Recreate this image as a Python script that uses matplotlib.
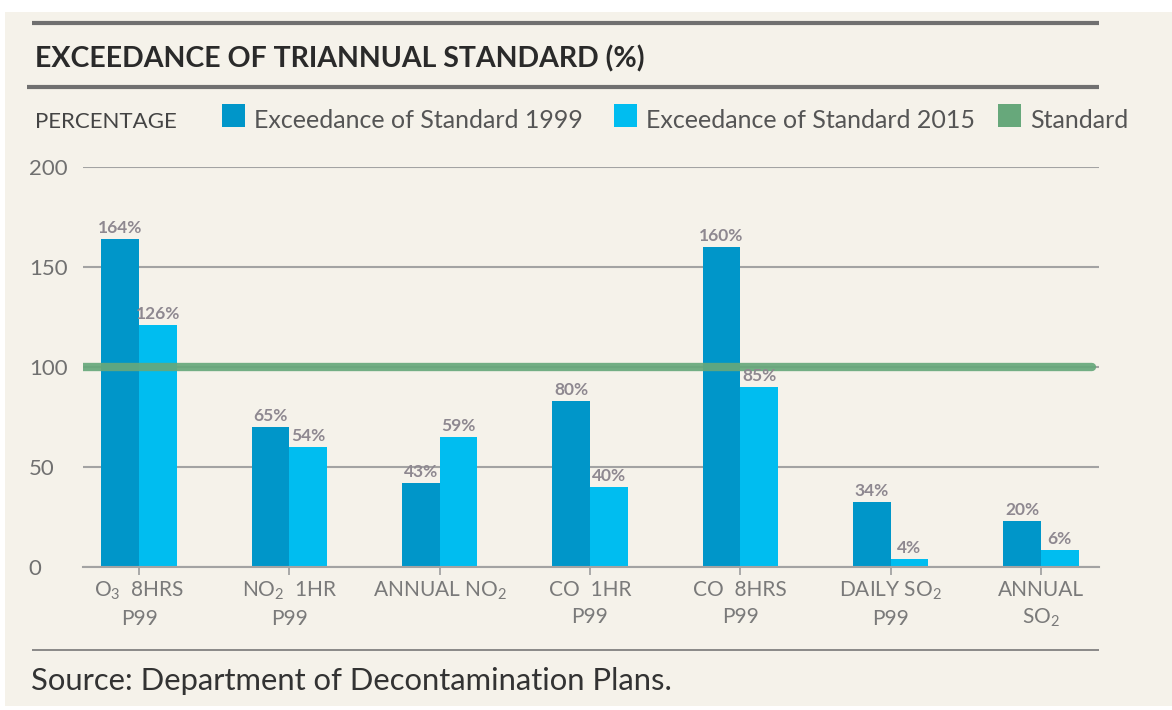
import numpy as np
import matplotlib.pyplot as plt
from matplotlib.patches import Rectangle
from matplotlib.lines import Line2D

plt.rcParams['font.family'] = ['Lato', 'DejaVu Sans']
plt.rcParams['mathtext.fontset'] = 'custom'
plt.rcParams['mathtext.rm'] = 'Lato'
plt.rcParams['mathtext.default'] = 'regular'

categories = ['O$_3$  8HRS\nP99', 'NO$_2$  1HR\nP99', 'ANNUAL NO$_2$', 'CO  1HR\nP99',
              'CO  8HRS\nP99', 'DAILY SO$_2$\nP99', 'ANNUAL\nSO$_2$']
# bar heights as drawn in the source chart
values_1999 = [164, 70, 42, 83, 160, 32.5, 23]
values_2015 = [121, 60, 65, 40, 90, 4, 8.5]
labels_1999 = ['164%', '65%', '43%', '80%', '160%', '34%', '20%']
labels_2015 = ['126%', '54%', '59%', '40%', '85%', '4%', '6%']
standard = 100
yticks = [0, 50, 100, 150, 200]

bg = '#f5f2ea'
c1999 = '#0096c9'
c2015 = '#00bdf0'
cstd = '#67a87b'
grid_c = '#a3a3a3'

W, H = 1172, 710
fig = plt.figure(figsize=(W / 100, H / 100), dpi=100, facecolor='white')
fig.add_artist(Rectangle((5 / W, 4 / H), 1 - 5 / W, 1 - 16 / H, transform=fig.transFigure,
                         facecolor=bg, edgecolor='none', zorder=-10))

ax = fig.add_axes([83 / W, (H - 567) / H, (1099 - 83) / W, 400 / H])
ax.set_facecolor('none')
x = np.arange(len(categories))
bw = 0.25
b1 = ax.bar(x - bw / 2, values_1999, bw, color=c1999, zorder=2)
b2 = ax.bar(x + bw / 2, values_2015, bw, color=c2015, zorder=2)

for bars, labs in [(b1, labels_1999), (b2, labels_2015)]:
    for b, lab in zip(bars, labs):
        ax.annotate(lab, (b.get_x() + b.get_width() / 2, b.get_height()), xytext=(0, 4),
                    textcoords='offset points', ha='center', va='baseline',
                    fontsize=12.5, fontweight='bold', color='#8e8890', zorder=4)

x0, x1 = -0.3726, 6.386
ax.plot([x0, 6.34], [standard, standard], color=cstd, lw=6, solid_capstyle='round',
        alpha=0.92, zorder=3)

ax.set_xlim(x0, x1)
ax.set_ylim(0, 200)
ax.set_yticks(yticks)
ax.set_yticklabels([str(v) for v in yticks], ha='left')
ax.tick_params(axis='y', length=0, pad=39, labelsize=16, labelcolor='#707070')
ax.set_xticks(x)
ax.set_xticklabels(categories, linespacing=1.45)
ax.tick_params(axis='x', length=6, width=1.3, color=grid_c, pad=3, labelsize=15,
               labelcolor='#7a7a7a')
ax.yaxis.grid(True, color=grid_c, lw=1.5, zorder=0)
for s in ['top', 'right', 'left']:
    ax.spines[s].set_visible(False)
ax.spines['bottom'].set_color(grid_c)
ax.spines['bottom'].set_linewidth(1.5)

# rules
def hrule(xa, xb, y, lw, color):
    fig.add_artist(Line2D([xa / W, xb / W], [1 - y / H, 1 - y / H], transform=fig.transFigure,
                          color=color, lw=lw, solid_capstyle='butt'))

hrule(32, 1099, 23, 3.0, '#707070')
hrule(27, 1099, 87, 3.0, '#707070')
hrule(32, 1099, 650, 1.2, '#777777')

fig.text(35 / W, 1 - 67 / H, 'EXCEEDANCE OF TRIANNUAL STANDARD (%)', fontsize=20.5,
         fontweight='bold', color='#2a2a2a', va='baseline')
fig.text(35 / W, 1 - 128 / H, 'PERCENTAGE', fontsize=16, color='#444444', va='baseline')

legend_items = [('Exceedance of Standard 1999', c1999, 222),
                ('Exceedance of Standard 2015', c2015, 614),
                ('Standard', cstd, 998)]
for lab, col, px in legend_items:
    fig.add_artist(Rectangle((px / W, 1 - 127 / H), 23 / W, 23 / H, transform=fig.transFigure,
                             facecolor=col, edgecolor='none'))
    fig.text((px + 32) / W, 1 - 128 / H, lab, fontsize=18, color='#555555', va='baseline')

fig.text(31 / W, 1 - 690 / H, 'Source: Department of Decontamination Plans.', fontsize=22.3,
         color='#333333', va='baseline')

fig.savefig('out.png', dpi=100, facecolor=fig.get_facecolor())
